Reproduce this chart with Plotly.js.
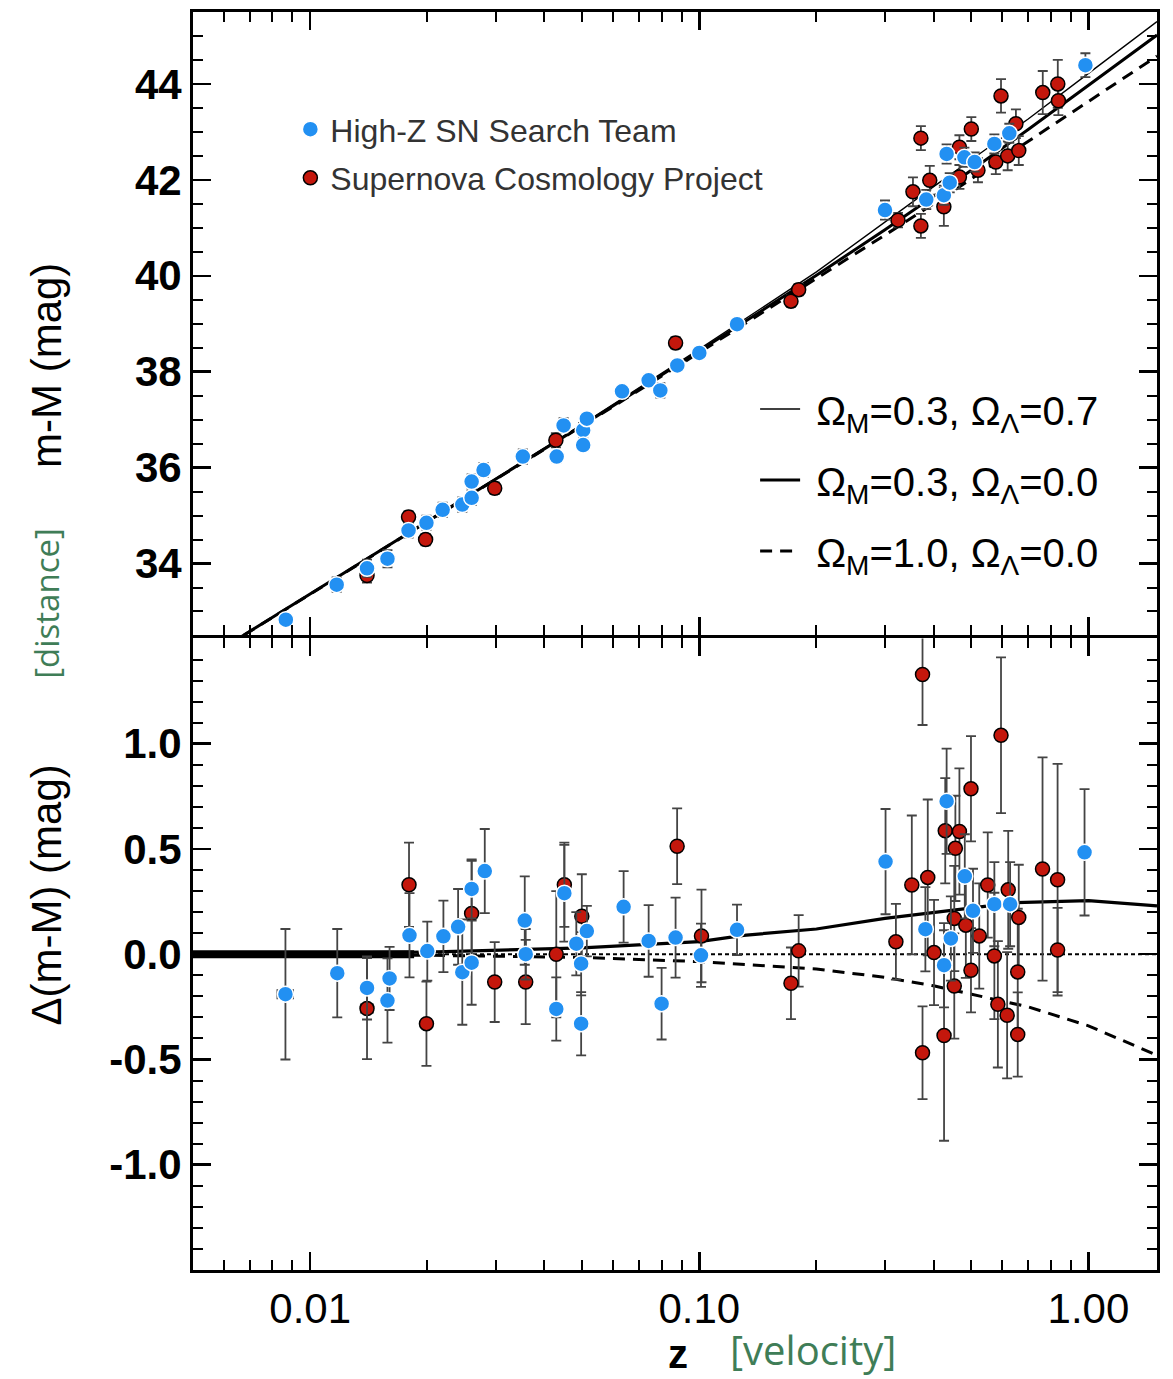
<!DOCTYPE html>
<html>
<head>
<meta charset="utf-8">
<script src="https://cdn.plot.ly/plotly-3.0.1.min.js"></script>
<style>
html,body{margin:0;padding:0;background:#fff;}
#chart{width:1173px;height:1379px;}
</style>
</head>
<body>
<div id="chart"></div>
<script>
// ---------- Top panel: distance modulus m-M ----------
const zHZTop   = [0.00866,0.0117,0.0140,0.0158,0.0179,0.0199,0.0219,0.0246,0.0260,0.0260,0.0279,0.0352,0.0430,0.0448,0.0503,0.0503,0.0514,0.0633,0.0741,0.0794,0.0878,0.100,0.125,0.300,0.383,0.425,0.440,0.432,0.480,0.510,0.573,0.626,0.982];
const muHZTop  = [32.83,33.56,33.90,34.10,34.69,34.85,35.12,35.23,35.37,35.71,35.95,36.23,36.23,36.88,36.78,36.47,37.02,37.59,37.82,37.61,38.13,38.39,38.99,41.37,41.59,41.68,41.94,42.54,42.47,42.37,42.75,42.97,44.39];
const errHZTop = [0.12,0.15,0.18,0.18,0.15,0.15,0.15,0.15,0.15,0.15,0.15,0.15,0.12,0.15,0.15,0.12,0.12,0.10,0.12,0.15,0.10,0.12,0.10,0.20,0.20,0.20,0.20,0.20,0.20,0.20,0.20,0.20,0.25];

const zSCPTop   = [0.0140,0.0179,0.0198,0.0298,0.0428,0.0869,0.172,0.180,0.324,0.354,0.371,0.371,0.391,0.425,0.466,0.466,0.500,0.520,0.578,0.596,0.620,0.651,0.662,0.763,0.834,0.837];
const muSCPTop  = [33.75,34.97,34.50,35.57,36.57,38.60,39.47,39.71,41.16,41.75,42.87,41.04,41.99,41.44,42.68,42.06,43.06,42.20,42.37,43.75,42.50,43.17,42.61,43.82,44.00,43.65];
const errSCPTop = [0.15,0.12,0.12,0.12,0.15,0.12,0.12,0.12,0.15,0.30,0.25,0.25,0.30,0.40,0.25,0.25,0.25,0.25,0.25,0.35,0.30,0.30,0.30,0.45,0.50,0.30];

// model curves (top panel)
const zModel   = [0.005,0.01,0.02,0.05,0.1,0.2,0.3,0.4,0.5,0.7,1.0,1.5];
const muLambda = [31.85,33.36,34.88,36.90,38.47,40.08,41.13,41.86,42.42,43.27,44.22,45.30];
const muOpen   = [31.85,33.36,34.87,36.88,38.43,40.01,40.96,41.66,42.20,43.05,43.97,45.02];
const muEdS    = [31.85,33.36,34.87,36.87,38.40,39.94,40.85,41.50,42.02,42.80,43.63,44.58];

// ---------- Bottom panel: residuals Δ(m-M) ----------
const zHZRes   = [0.00864,0.01174,0.0140,0.0160,0.0158,0.0180,0.0200,0.0220,0.0240,0.0246,0.0260,0.0260,0.0281,0.0356,0.0358,0.0429,0.0450,0.0514,0.0483,0.0497,0.0497,0.0639,0.0741,0.0800,0.0869,0.101,0.125,0.301,0.381,0.443,0.4255,0.432,0.481,0.505,0.573,0.629,0.977];
const dHZRes   = [-0.19,-0.09,-0.16,-0.115,-0.22,0.09,0.015,0.085,0.13,-0.085,-0.04,0.31,0.395,0.16,0.0,-0.26,0.29,0.11,0.05,-0.045,-0.33,0.225,0.063,-0.235,0.079,-0.005,0.116,0.44,0.119,0.075,-0.052,0.727,0.37,0.206,0.238,0.238,0.484];
const errHZRes = [0.31,0.21,0.15,0.15,0.20,0.20,0.14,0.17,0.18,0.25,0.20,0.14,0.20,0.21,0.12,0.15,0.23,0.12,0.15,0.15,0.15,0.17,0.17,0.17,0.19,0.15,0.12,0.25,0.20,0.20,0.20,0.25,0.20,0.20,0.20,0.20,0.30];
const errXHZRes = [0.0004,0,0,0,0,0,0,0,0,0,0,0,0,0,0,0,0,0,0,0,0,0,0,0,0,0,0,0,0,0,0,0,0,0,0,0,0];

const zSCPRes   = [0.0140,0.01795,0.0199,0.0260,0.0298,0.0358,0.0429,0.0450,0.0499,0.0877,0.1013,0.172,0.180,0.320,0.3516,0.3746,0.3746,0.3864,0.401,0.4255,0.4285,0.452,0.452,0.455,0.466,0.484,0.499,0.499,0.524,0.551,0.573,0.585,0.596,0.618,0.622,0.658,0.658,0.662,0.762,0.833,0.833];
const dSCPRes   = [-0.258,0.33,-0.33,0.194,-0.132,-0.132,0.0,0.33,0.18,0.513,0.087,-0.138,0.016,0.059,0.329,1.329,-0.468,0.365,0.008,-0.386,0.587,0.17,-0.151,0.503,0.583,0.138,0.786,-0.076,0.087,0.329,-0.008,-0.238,1.04,-0.29,0.306,-0.084,-0.381,0.175,0.405,0.354,0.02];
const errSCPRes = [0.24,0.20,0.20,0.25,0.19,0.20,0.30,0.20,0.20,0.18,0.22,0.17,0.17,0.18,0.33,0.24,0.22,0.37,0.25,0.50,0.25,0.25,0.25,0.25,0.30,0.25,0.25,0.20,0.25,0.25,0.30,0.30,0.37,0.30,0.28,0.30,0.20,0.25,0.53,0.55,0.20];
const errXSCPRes = [0.0005,0,0,0,0,0,0,0,0,0,0,0,0,0,0,0,0,0,0,0,0,0,0,0,0,0,0,0,0,0,0,0,0,0,0,0,0,0,0,0,0];

// residual model curves
const zResLambda = [0.005,0.02,0.05,0.1,0.13,0.2,0.3,0.45,0.65,1.0,1.5];
const resLambda  = [0.0,0.01,0.03,0.06,0.09,0.12,0.17,0.21,0.245,0.255,0.23];
const zResOpen   = [0.005,1.5];
const resOpen    = [0.0,0.0];
const zResEdS    = [0.005,0.02,0.05,0.1,0.2,0.3,0.4,0.7,1.0,1.5];
const resEdS     = [0.0,-0.005,-0.015,-0.035,-0.07,-0.11,-0.15,-0.25,-0.34,-0.48];
const zOverlap   = [0.005,0.0185];
const resOverlap = [0.0,0.0];

// ticks
const xTickVals = [0.01,0.1,1];
const xTickText = ['0.01','0.10','1.00'];
const xMinorVals = [0.006,0.007,0.008,0.009,0.02,0.03,0.04,0.05,0.06,0.07,0.08,0.09,0.2,0.3,0.4,0.5,0.6,0.7,0.8,0.9];
const yTopTickVals = [34,36,38,40,42,44];
const yTopTickText = ['34','36','38','40','42','44'];
const yBotTickVals = [-1.0,-0.5,0.0,0.5,1.0];
const yBotTickText = ['-1.0','-0.5','0.0','0.5','1.0'];

const labels = {
  hz: 'High-Z SN Search Team',
  scp: 'Supernova Cosmology Project',
  lam: '\u00a0Ω<sub>M</sub>=0.3, Ω<sub>Λ</sub>=0.7',
  open: '\u00a0Ω<sub>M</sub>=0.3, Ω<sub>Λ</sub>=0.0',
  eds: '\u00a0Ω<sub>M</sub>=1.0, Ω<sub>Λ</sub>=0.0'
};

// ---------- styles ----------
const FONT = 'Liberation Sans, Arial, Helvetica, sans-serif';
const GREEN = '#3f7d57';
const BLUE = '#2290f2';
const RED = '#c4170c';
const ERRC = '#444444';

function errStyle(arr){ return {type:'data', array:arr, visible:true, color:ERRC, thickness:1.8, width:5}; }
const blueMarker = {color:BLUE, size:16, line:{color:'#ffffff', width:1.5}};
const redMarker  = {color:RED, size:14, line:{color:'#000000', width:1.5}};

const traces = [
  // top panel models
  {x:zModel, y:muLambda, xaxis:'x2', yaxis:'y2', mode:'lines', name:labels.lam,
   line:{color:'black', width:1.4}, legend:'legend2', legendgroup:'g1', hoverinfo:'skip'},
  {x:zModel, y:muOpen, xaxis:'x2', yaxis:'y2', mode:'lines', name:labels.open,
   line:{color:'black', width:3}, legend:'legend2', legendgroup:'g2', hoverinfo:'skip'},
  {x:zModel, y:muEdS, xaxis:'x2', yaxis:'y2', mode:'lines', name:labels.eds,
   line:{color:'black', width:3, dash:'12px,8px'}, legend:'legend2', legendgroup:'g3', hoverinfo:'skip'},
  // top panel data
  {x:zSCPTop, y:muSCPTop, xaxis:'x2', yaxis:'y2', mode:'markers', name:labels.scp,
   marker:redMarker, error_y:errStyle(errSCPTop), legend:'legend', legendgroup:'d2', legendrank:2},
  {x:zHZTop, y:muHZTop, xaxis:'x2', yaxis:'y2', mode:'markers', name:labels.hz,
   marker:blueMarker, error_y:errStyle(errHZTop), legend:'legend', legendgroup:'d1', legendrank:1},
  // bottom panel models
  {x:zOverlap, y:resOverlap, xaxis:'x', yaxis:'y', mode:'lines', showlegend:false,
   line:{color:'black', width:8}, hoverinfo:'skip'},
  {x:zResOpen, y:resOpen, xaxis:'x', yaxis:'y', mode:'lines', showlegend:false,
   line:{color:'black', width:2.2, dash:'4px,3px'}, hoverinfo:'skip'},
  {x:zResEdS, y:resEdS, xaxis:'x', yaxis:'y', mode:'lines', showlegend:false,
   line:{color:'black', width:3, dash:'12px,8px'}, hoverinfo:'skip'},
  {x:zResLambda, y:resLambda, xaxis:'x', yaxis:'y', mode:'lines', showlegend:false,
   line:{color:'black', width:3.2}, hoverinfo:'skip'},
  // bottom panel data
  {x:zSCPRes, y:dSCPRes, xaxis:'x', yaxis:'y', mode:'markers', showlegend:false,
   marker:redMarker, error_y:errStyle(errSCPRes), error_x:errStyle(errXSCPRes)},
  {x:zHZRes, y:dHZRes, xaxis:'x', yaxis:'y', mode:'markers', showlegend:false,
   marker:blueMarker, error_y:errStyle(errHZRes), error_x:errStyle(errXHZRes)}
];

const xBase = {
  type:'log', range:[Math.log10(0.005), Math.log10(1.5)],
  showline:true, linecolor:'black', linewidth:3, mirror:'allticks',
  ticks:'inside', ticklen:18, tickwidth:2.5, tickcolor:'black',
  tickvals:xTickVals, ticktext:xTickText,
  minor:{tickvals:xMinorVals, ticks:'inside', ticklen:10, tickwidth:2, tickcolor:'black', showgrid:false},
  showgrid:false, zeroline:false,
  tickfont:{family:FONT, size:42, color:'black'}
};

const yBase = {
  showline:true, linecolor:'black', linewidth:3, mirror:'allticks',
  ticks:'inside', ticklen:18, tickwidth:2.5, tickcolor:'black',
  showgrid:false, zeroline:false, ticklabelstandoff:0,
  tickfont:{family:FONT, size:42, color:'black', weight:'bold'}
};

const layout = {
  width:1173, height:1379,
  margin:{l:193, r:16, t:12, b:109},
  paper_bgcolor:'white', plot_bgcolor:'white',
  showlegend:true,
  xaxis: Object.assign({}, xBase, {anchor:'y', domain:[0,1], ticklabelstandoff:0}),
  xaxis2: Object.assign({}, xBase, {anchor:'y2', matches:'x', showticklabels:false}),
  yaxis: Object.assign({}, yBase, {domain:[0,0.5020], range:[-1.5,1.5],
    tickvals:yBotTickVals, ticktext:yBotTickText,
    minor:{dtick:0.1, tick0:0, ticks:'inside', ticklen:10, tickwidth:2, tickcolor:'black', showgrid:false}}),
  yaxis2: Object.assign({}, yBase, {domain:[0.5044,1], range:[32.5,45.5],
    tickvals:yTopTickVals, ticktext:yTopTickText,
    minor:{dtick:0.5, tick0:0, ticks:'inside', ticklen:10, tickwidth:2, tickcolor:'black', showgrid:false}}),
  legend:{x:0.101, y:0.9285, xanchor:'left', yanchor:'top', bgcolor:'rgba(0,0,0,0)',
    font:{family:FONT, size:32, color:'#333333'}, tracegroupgap:4, traceorder:'grouped', itemwidth:30},
  legend2:{x:0.5831, y:0.7103, xanchor:'left', yanchor:'top', bgcolor:'rgba(0,0,0,0)',
    font:{family:FONT, size:40, color:'black'}, tracegroupgap:16, traceorder:'grouped', itemwidth:40},
  annotations:[
    {text:'m-M (mag)', xref:'paper', yref:'paper', x:-0.152, y:0.719, textangle:-90,
     showarrow:false, xanchor:'center', yanchor:'middle', font:{family:FONT, size:42, color:'black'}},
    {text:'[distance]', xref:'paper', yref:'paper', x:-0.152, y:0.530, textangle:-90,
     showarrow:false, xanchor:'center', yanchor:'middle', font:{family:'Open Sans, sans-serif', size:33, color:GREEN}},
    {text:'Δ(m-M) (mag)', xref:'paper', yref:'paper', x:-0.152, y:0.298, textangle:-90,
     showarrow:false, xanchor:'center', yanchor:'middle', font:{family:FONT, size:42, color:'black'}},
    {text:'z', xref:'paper', yref:'paper', x:0.503, y:-0.0668, showarrow:false,
     xanchor:'center', yanchor:'middle', font:{family:FONT, size:40, color:'black', weight:'bold'}},
    {text:'[velocity]', xref:'paper', yref:'paper', x:0.643, y:-0.0866, showarrow:false,
     xanchor:'center', yanchor:'bottom', font:{family:'Open Sans, sans-serif', size:40, color:GREEN}}
  ]
};

Plotly.newPlot('chart', traces, layout, {displayModeBar:false, staticPlot:true});
</script>
</body>
</html>
